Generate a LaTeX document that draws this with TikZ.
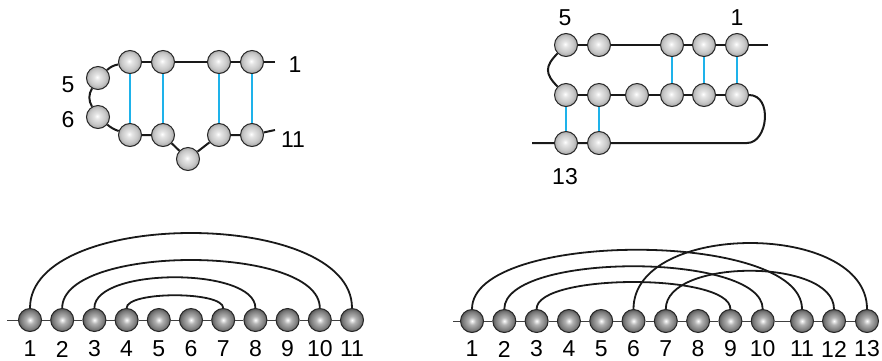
\documentclass[tikz,border=0pt]{standalone}
\usepackage{fontspec}
\setmainfont{Liberation Sans}
\definecolor{pairblue}{HTML}{1EB2EA}
\pgfdeclareradialshading{lightbead}{\pgfpoint{-2bp}{2bp}}{color(0bp)=(white); color(6bp)=(black!10); color(18bp)=(black!22); color(25bp)=(black!35); color(50bp)=(black!35)}
\pgfdeclareradialshading{darkbead}{\pgfpoint{0bp}{0bp}}{color(0bp)=(white); color(8bp)=(black!30); color(20bp)=(black!52); color(25bp)=(black!65); color(50bp)=(black!65)}
\tikzset{
  bead/.style={circle, draw=black!85, line width=0.5pt, minimum size=11.5pt, inner sep=0pt, shading=lightbead},
  chainbead/.style={bead, shading=darkbead},
  backbone/.style={line width=1pt, black!90},
  thinbone/.style={line width=0.5pt, black!75},
  pairing/.style={line width=1pt, pairblue},
  arcline/.style={line width=0.9pt, black!90},
  num/.style={font=\fontsize{11.5}{13}\selectfont, inner sep=0pt}
}

\begin{document}
\begin{tikzpicture}[x=0.5pt, y=-0.5pt]
\useasboundingbox (0,0) rectangle (882,360);

% Hairpin with a bulge (top left)
\node[bead] (a1) at (252,62) {};
\node[bead] (a2) at (219,62) {};
\node[bead] (a3) at (163,62) {};
\node[bead] (a4) at (130,62) {};
\node[bead] (a5) at (98,78) {};
\node[bead] (a6) at (98,117) {};
\node[bead] (a7) at (130,135) {};
\node[bead] (a8) at (163,135) {};
\node[bead] (a9) at (188,159) {};
\node[bead] (a10) at (219,135) {};
\node[bead] (a11) at (252,135) {};
\coordinate (aIn) at (275,62);
\coordinate (aOut) at (275,130);

\draw[backbone] (aIn) -- (a1) -- (a2) -- (a3) -- (a4);
\draw[backbone] (a4) to[bend right=15] (a5);
\draw[backbone] (a5) to[bend right=30] (a6);
\draw[backbone] (a6) to[bend right=10] (a7);
\draw[backbone] (a7) -- (a8) -- (a9) -- (a10) -- (a11) -- (aOut);

\draw[pairing] (a1) -- (a11);
\draw[pairing] (a2) -- (a10);
\draw[pairing] (a3) -- (a8);
\draw[pairing] (a4) -- (a7);

\node[num] (la1) at (295,65) {1};
\node[num] (la5) at (68,85) {5};
\node[num] (la6) at (68,120) {6};
\node[num] (la11) at (293,140) {11};

% Pseudoknot (top right)
\node[bead] (c1) at (737,45) {};
\node[bead] (c2) at (704,45) {};
\node[bead] (c3) at (672,45) {};
\node[bead] (c4) at (599,45) {};
\node[bead] (c5) at (566,45) {};
\node[bead] (c6) at (566,95) {};
\node[bead] (c7) at (599,95) {};
\node[bead] (c8) at (637,95) {};
\node[bead] (c9) at (672,95) {};
\node[bead] (c10) at (704,95) {};
\node[bead] (c11) at (737,95) {};
\node[bead] (c12) at (599,143) {};
\node[bead] (c13) at (566,143) {};
\coordinate (cIn) at (768,45);
\coordinate (cTurn) at (747,143);
\coordinate (cOut) at (532,143);

\draw[backbone] (cIn) -- (c1) -- (c2) -- (c3) -- (c4) -- (c5);
\draw[backbone] (c5) to[out=225, in=135, looseness=1.4] (c6);
\draw[backbone] (c6) -- (c7) -- (c8) -- (c9) -- (c10) -- (c11);
\draw[backbone] (c11.east) .. controls +(24,0) and +(21,0) .. (cTurn) -- (c12) -- (c13) -- (cOut);

\draw[pairing] (c1) -- (c11);
\draw[pairing] (c2) -- (c10);
\draw[pairing] (c3) -- (c9);
\draw[pairing] (c6) -- (c13);
\draw[pairing] (c7) -- (c12);

\node[num] (lc5) at (565,18) {5};
\node[num] (lc1) at (737,18) {1};
\node[num] (lc13) at (565,177) {13};

% Arc diagram of the hairpin (bottom left)
\coordinate (bStart) at (7,320);
\foreach \i in {1,...,11} {
  \node[chainbead] (b\i) at ({30+32.2*(\i-1)},320) {};
  \node[num] (lb\i) at ({30+32.2*(\i-1)},349) {\i};
}
\draw[thinbone] (bStart) -- (b1);
\foreach \i [evaluate=\i as \j using int(\i+1)] in {1,...,10}
  \draw[thinbone] (b\i) -- (b\j);

\draw[arcline] (b1.north) .. controls +(0,-100) and +(0,-100) .. (b11.north);
\draw[arcline] (b2.north) .. controls +(0,-64) and +(0,-64) .. (b10.north);
\draw[arcline] (b3.north) .. controls +(0,-41) and +(0,-41) .. (b8.north);
\draw[arcline] (b4.north) .. controls +(0,-17) and +(0,-17) .. (b7.north);

% Arc diagram of the pseudoknot (bottom right)
\coordinate (dStart) at (453,321);
\foreach \i in {1,...,10} {
  \node[chainbead] (d\i) at ({472+32.3*(\i-1)},321) {};
  \node[num] (ld\i) at ({472+32.3*(\i-1)},349) {\i};
}
\node[chainbead] (d11) at (802,321) {};
\node[chainbead] (d12) at (834,321) {};
\node[chainbead] (d13) at (867,321) {};
\node[num] (ld11) at (802,349) {11};
\node[num] (ld12) at (834,349) {12};
\node[num] (ld13) at (867,349) {13};
\draw[thinbone] (dStart) -- (d1);
\foreach \i [evaluate=\i as \j using int(\i+1)] in {1,...,12}
  \draw[thinbone] (d\i) -- (d\j);

\draw[arcline] (d1.north) .. controls +(0,-79) and +(0,-79) .. (d11.north);
\draw[arcline] (d2.north) .. controls +(0,-57) and +(0,-57) .. (d10.north);
\draw[arcline] (d3.north) .. controls +(0,-36) and +(0,-36) .. (d9.north);
\draw[arcline] (d6.north) .. controls +(0,-88) and +(0,-88) .. (d13.north);
\draw[arcline] (d7.north) .. controls +(0,-51) and +(0,-51) .. (d12.north);
\end{tikzpicture}
\end{document}
